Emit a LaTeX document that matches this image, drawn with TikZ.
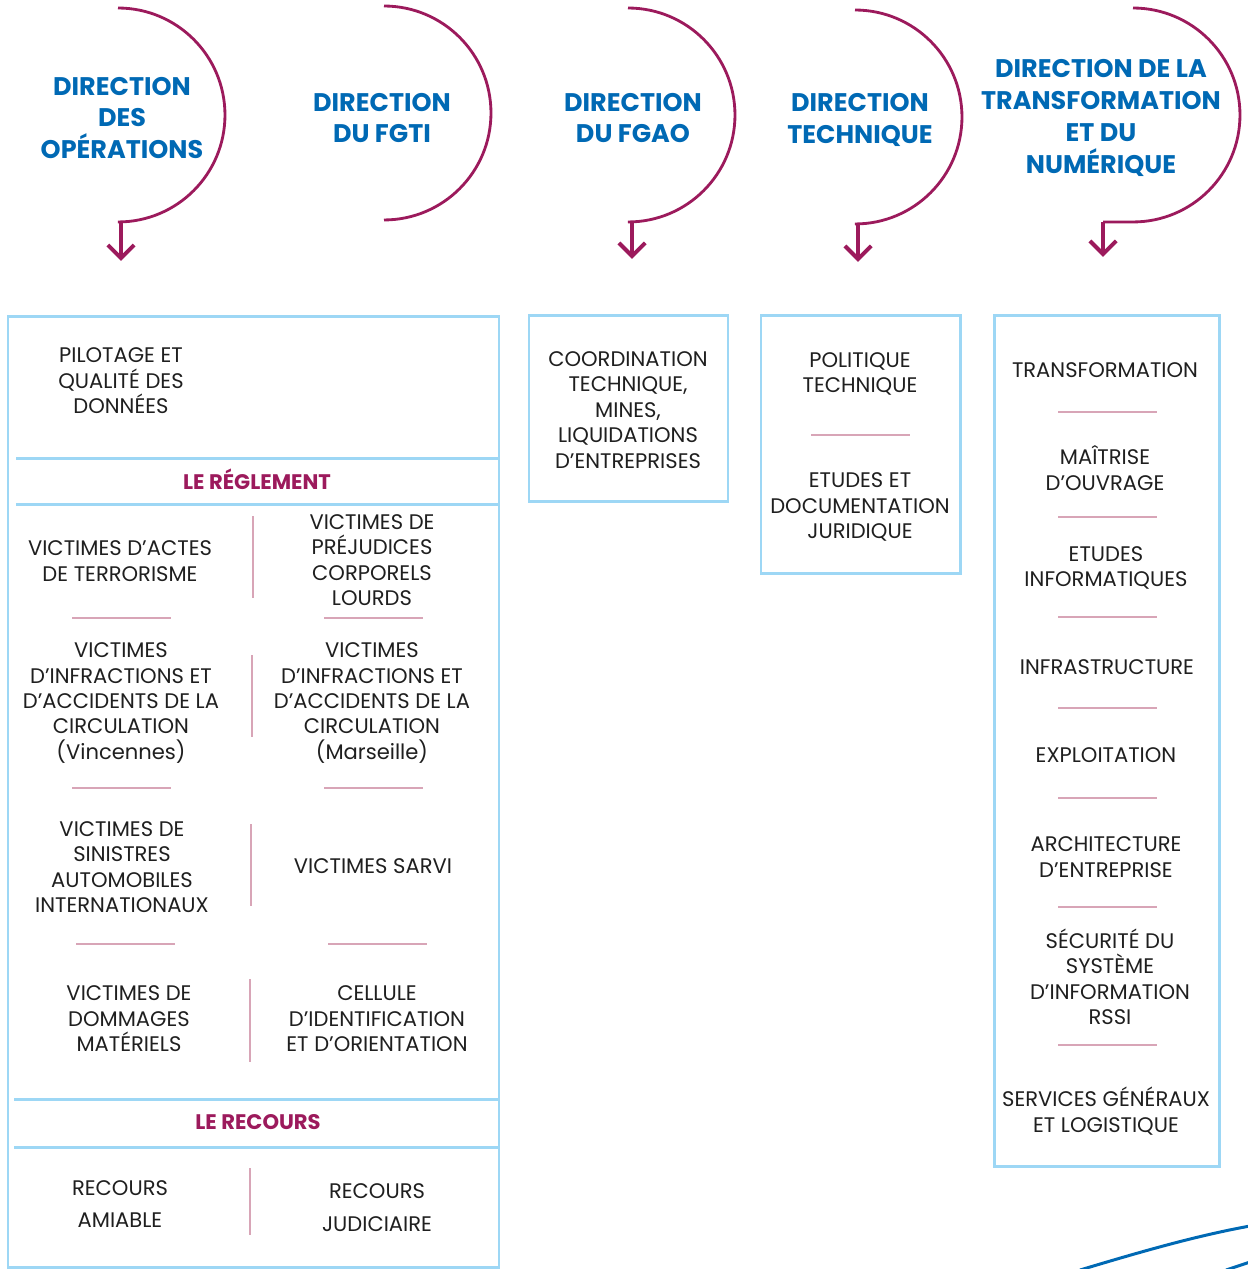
\documentclass[tikz,border=0pt]{standalone}
\usepackage{fontspec}
\setmainfont{Poppins}
\usetikzlibrary{arrows.meta}

\definecolor{dirblue}{HTML}{0069B4}
\definecolor{plum}{HTML}{9C1A5C}
\definecolor{framebl}{HTML}{9DD7F5}
\definecolor{rulepink}{HTML}{D8A5B7}

\tikzset{
  dir/.style={text=dirblue, font=\fontsize{14.5}{18.1}\selectfont\bfseries, align=center, inner sep=0pt},
  unit/.style={text=black!88, font=\fontsize{12}{14.5}\selectfont, align=center, inner sep=0pt},
  band/.style={text=plum, font=\fontsize{12}{14.5}\selectfont\bfseries, inner sep=0pt},
  frame/.style={draw=framebl, line width=1.7pt},
  swirl/.style={draw=plum, line width=1.6pt},
  drop/.style={draw=plum, line width=2.3pt, -{Straight Barb[length=7.5pt,width=15pt]}},
  sep/.style={draw=rulepink, line width=0.9pt},
}

\begin{document}
\begin{tikzpicture}[x=0.02cm, y=-0.02cm]
    \useasboundingbox (0,0) rectangle (1248,1269);

    % directions
    \node[dir] (ops)  at (122,118) {DIRECTION\\DES\\OPÉRATIONS};
    \node[dir] (fgti) at (382,118) {DIRECTION\\DU FGTI};
    \node[dir] (fgao) at (633,118) {DIRECTION\\DU FGAO};
    \node[dir] (tech) at (860,120) {DIRECTION\\TECHNIQUE};
    \node[dir] (num)  at (1101,118) {DIRECTION DE LA\\TRANSFORMATION\\ET DU\\NUMÉRIQUE};

    \draw[swirl] (118,8) arc[start angle=90, end angle=-90, radius=2.14cm] -- ++(3,0) coordinate (ops-end);
    \draw[swirl] (384,6) arc[start angle=90, end angle=-90, radius=2.14cm];
    \draw[swirl] (628,8) arc[start angle=90, end angle=-90, radius=2.14cm] -- ++(4,0) coordinate (fgao-end);
    \draw[swirl] (855,10) arc[start angle=90, end angle=-90, radius=2.14cm] -- ++(3,0) coordinate (tech-end);
    \draw[swirl] (1133,8) arc[start angle=90, end angle=-90, radius=2.14cm] -- ++(-30,0) coordinate (num-end);

    \draw[drop] (ops-end) -- ++(0,39);
    \draw[drop] (fgao-end) -- ++(0,37);
    \draw[drop] (tech-end) -- ++(0,38);
    \draw[drop] (num-end) -- ++(0,35);

    % operations
    \draw[frame] (8,316) rectangle (499,1267);
    \draw[frame] (16,458) -- (499,458);
    \draw[frame] (16,504) -- (499,504);
    \draw[frame] (14,1099) -- (499,1099);
    \draw[frame] (14,1147) -- (499,1147);

    \node[unit] (pilot) at (121,381) {PILOTAGE ET\\QUALITÉ DES\\DONNÉES};
    \node[band] (regl) at (257,479) {LE RÉGLEMENT};
    \node[unit] (terr) at (120,561) {VICTIMES D’ACTES\\DE TERRORISME};
    \node[unit] (corp) at (372,560) {VICTIMES DE\\PRÉJUDICES\\CORPORELS\\LOURDS};
    \node[unit] (vinc) at (121,703) {VICTIMES\\D’INFRACTIONS ET\\D’ACCIDENTS DE LA\\CIRCULATION\\(Vincennes)};
    \node[unit] (mars) at (372,703) {VICTIMES\\D’INFRACTIONS ET\\D’ACCIDENTS DE LA\\CIRCULATION\\(Marseille)};
    \node[unit] (auto) at (122,867) {VICTIMES DE\\SINISTRES\\AUTOMOBILES\\INTERNATIONAUX};
    \node[unit] (sarvi) at (373,866) {VICTIMES SARVI};
    \node[unit] (dmg) at (129,1019) {VICTIMES DE\\DOMMAGES\\MATÉRIELS};
    \node[unit] (cell) at (377,1019) {CELLULE\\D’IDENTIFICATION\\ET D’ORIENTATION};
    \node[band] (recours) at (258,1122) {LE RECOURS};
    \node[unit, font=\fontsize{12}{18.7}\selectfont] (amia) at (120,1204) {RECOURS\\AMIABLE};
    \node[unit, font=\fontsize{12}{18.7}\selectfont] (judi) at (377,1208) {RECOURS\\JUDICIAIRE};

    \foreach \y in {618,788}
    {
        \draw[sep] (72,\y) -- (171,\y);
        \draw[sep] (324,\y) -- (423,\y);
    }
    \draw[sep] (76,944) -- (175,944);
    \draw[sep] (328,944) -- (427,944);
    \draw[sep] (253,516) -- (253,598);
    \draw[sep] (252,655) -- (252,737);
    \draw[sep] (251,824) -- (251,906);
    \draw[sep] (250,979) -- (250,1062);
    \draw[sep] (250,1168) -- (250,1235);

    % fgao
    \draw[frame] (529,315) rectangle (728,501);
    \node[unit] (coord) at (628,410) {COORDINATION\\TECHNIQUE,\\MINES,\\LIQUIDATIONS\\D’ENTREPRISES};

    % technique
    \draw[frame] (761,315) rectangle (960,573);
    \node[unit] (poli) at (860,374) {POLITIQUE\\TECHNIQUE};
    \draw[sep] (811,435) -- (910,435);
    \node[unit] (juri) at (860,507) {ETUDES ET\\DOCUMENTATION\\JURIDIQUE};

    % transformation et numerique
    \draw[frame] (994,315) rectangle (1219,1166);
    \node[unit] (trans) at (1105,370) {TRANSFORMATION};
    \node[unit] (moa) at (1105,468) {MAÎTRISE\\D’OUVRAGE};
    \node[unit] (etud) at (1106,568) {ETUDES\\INFORMATIQUES};
    \node[unit] (infra) at (1107,667) {INFRASTRUCTURE};
    \node[unit] (expl) at (1106,755) {EXPLOITATION};
    \node[unit] (archi) at (1106,857) {ARCHITECTURE\\D’ENTREPRISE};
    \node[unit] (rssi) at (1110,977) {SÉCURITÉ DU\\SYSTÈME\\D’INFORMATION\\RSSI};
    \node[unit] (serv) at (1106,1111) {SERVICES GÉNÉRAUX\\ET LOGISTIQUE};
    \foreach \y in {412,517,617,708,798,907,1045}
        \draw[sep] (1058,\y) -- (1157,\y);

    % swoosh
    \draw[dirblue, line width=1.7pt] (1080,1270) .. controls (1140,1252) and (1195,1236) .. (1250,1226);
    \draw[dirblue, line width=1.7pt] (1226,1270) -- (1250,1262);
\end{tikzpicture}
\end{document}
